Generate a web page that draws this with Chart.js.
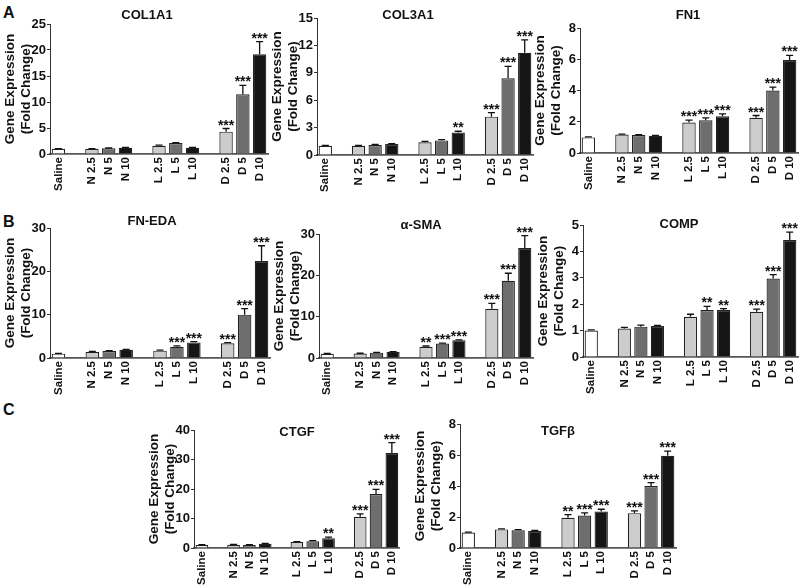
<!DOCTYPE html>
<html>
<head>
<meta charset="utf-8">
<script src="https://cdn.jsdelivr.net/npm/chart.js@4.4.0/dist/chart.umd.min.js"></script>
<style>
body{margin:0;background:#fff;width:800px;height:588px;position:relative;overflow:hidden;font-family:"Liberation Sans",Arial,sans-serif}
canvas{position:absolute}
.letter{position:absolute;font-weight:bold;font-size:16px;color:#111}
</style>
</head>
<body>
<div class="letter" style="left:3px;top:4px">A</div>
<div class="letter" style="left:3px;top:213px">B</div>
<div class="letter" style="left:3px;top:401px">C</div>

<script>
// treatment groups (gaps between groups are added later)
const groups = ["Saline", "N 2.5", "N 5", "N 10", "L 2.5", "L 5", "L 10", "D 2.5", "D 5", "D 10"];

// fold change, SEM, significance per gene
const col1a1 = [1.0, 1.0, 1.1, 1.2, 1.6, 2.1, 1.2, 4.3, 11.5, 19.2];
const col1a1Err = [0.05, 0.05, 0.05, 0.05, 0.1, 0.1, 0.05, 0.6, 1.7, 2.4];
const col1a1Sig = ["", "", "", "", "", "", "", "***", "***", "***"];

const col3a1 = [1.0, 1.0, 1.1, 1.2, 1.4, 1.6, 2.45, 4.2, 8.4, 11.2];
const col3a1Err = [0.05, 0.05, 0.05, 0.05, 0.1, 0.08, 0.15, 0.45, 1.3, 1.4];
const col3a1Sig = ["", "", "", "", "", "", "**", "***", "***", "***"];

const fn1 = [1.0, 1.18, 1.15, 1.1, 1.95, 2.1, 2.35, 2.25, 4.0, 5.95];
const fn1Err = [0.03, 0.03, 0.03, 0.03, 0.15, 0.15, 0.15, 0.15, 0.22, 0.3];
const fn1Sig = ["", "", "", "", "***", "***", "***", "***", "***", "***"];

const fnEda = [1.0, 1.4, 1.6, 1.9, 1.7, 2.6, 3.6, 3.4, 10.0, 22.4];
const fnEdaErr = [0.05, 0.1, 0.1, 0.1, 0.1, 0.2, 0.2, 0.15, 1.4, 3.5];
const fnEdaSig = ["", "", "", "", "", "***", "***", "***", "***", "***"];

const aSma = [1.0, 1.1, 1.3, 1.5, 2.7, 3.5, 4.3, 11.9, 18.7, 26.6];
const aSmaErr = [0.1, 0.05, 0.05, 0.05, 0.2, 0.1, 0.1, 1.3, 1.8, 3.0];
const aSmaSig = ["", "", "", "", "**", "***", "***", "***", "***", "***"];

const comp = [1.0, 1.08, 1.15, 1.17, 1.52, 1.78, 1.78, 1.71, 2.97, 4.43];
const compErr = [0.03, 0.04, 0.06, 0.03, 0.1, 0.14, 0.05, 0.1, 0.15, 0.3];
const compSig = ["", "", "", "", "", "**", "**", "***", "***", "***"];

const ctgf = [1.0, 1.1, 1.0, 1.4, 2.0, 2.3, 3.3, 10.6, 18.3, 32.2];
const ctgfErr = [0.1, 0.1, 0.1, 0.15, 0.15, 0.2, 0.4, 1.0, 1.6, 3.5];
const ctgfSig = ["", "", "", "", "", "", "**", "***", "***", "***"];

const tgfb = [1.0, 1.2, 1.15, 1.1, 1.95, 2.1, 2.35, 2.25, 4.0, 5.95];
const tgfbErr = [0.03, 0.03, 0.03, 0.03, 0.2, 0.17, 0.15, 0.15, 0.22, 0.3];
const tgfbSig = ["", "", "", "", "**", "***", "***", "***", "***", "***"];

const geneNames = ["COL1A1", "COL3A1", "FN1", "FN-EDA", "α-SMA", "COMP", "CTGF", "TGFβ"];
const yMax = [25, 15, 8, 30, 30, 5, 40, 8];
const yStep = [5, 3, 2, 10, 10, 1, 10, 2];

const genes = [
    [col1a1, col1a1Err, col1a1Sig],
    [col3a1, col3a1Err, col3a1Sig],
    [fn1, fn1Err, fn1Sig],
    [fnEda, fnEdaErr, fnEdaSig],
    [aSma, aSmaErr, aSmaSig],
    [comp, compErr, compSig],
    [ctgf, ctgfErr, ctgfSig],
    [tgfb, tgfbErr, tgfbSig]
];

// where each panel sits on the page: y axis x, pixel of max / zero, right end, title centre
const placement = [
    {ax: 50,  top: 24,  bot: 154, right: 268, tx: 147, ty: 15},
    {ax: 317, top: 18,  bot: 155, right: 533, tx: 408, ty: 15},
    {ax: 580, top: 28,  bot: 153, right: 798, tx: 688, ty: 15},
    {ax: 50,  top: 228, bot: 358, right: 270, tx: 152, ty: 221},
    {ax: 319, top: 234, bot: 358, right: 533, tx: 421, ty: 225},
    {ax: 583, top: 225, bot: 357, right: 798, tx: 679, ty: 224},
    {ax: 194, top: 430, bot: 548, right: 400, tx: 297, ty: 432},
    {ax: 460, top: 424, bot: 548, right: 676, tx: 558, ty: 431}
];

const barColors = ["#ffffff", "#cccccc", "#6e6e6e", "#151515"];

// put an empty slot between Saline / N / L / D
function withGaps(arr, fill) {
    return [arr[0], fill, arr[1], arr[2], arr[3], fill, arr[4], arr[5], arr[6], fill, arr[7], arr[8], arr[9]];
}
const slotColors = withGaps([0, 1, 2, 3, 1, 2, 3, 1, 2, 3].map(i => barColors[i]), "#fff");

Chart.defaults.font.family = "'Liberation Sans', Arial, sans-serif";
Chart.defaults.font.weight = "bold";
Chart.defaults.color = "#111";
Chart.defaults.animation = false;

const PAD_TOP = 22, PAD_RIGHT = 9, Y_W = 48, X_H = 40;

const errorBars = {
    id: "errorBars",
    afterDatasetsDraw(chart) {
        const ctx = chart.ctx;
        const ds = chart.data.datasets[0];
        const meta = chart.getDatasetMeta(0);
        const yScale = chart.scales.y;
        ctx.save();
        ctx.strokeStyle = "#111";
        ctx.fillStyle = "#111";
        ctx.lineWidth = 1.3;
        ctx.font = "bold 14px 'Liberation Sans', Arial, sans-serif";
        ctx.textAlign = "center";
        ctx.textBaseline = "alphabetic";
        meta.data.forEach((bar, i) => {
            const v = ds.data[i];
            if (v == null) return;
            const top = yScale.getPixelForValue(v + ds.errors[i]);
            ctx.beginPath();
            ctx.moveTo(bar.x, bar.y);
            ctx.lineTo(bar.x, top);
            ctx.moveTo(bar.x - 3.5, top);
            ctx.lineTo(bar.x + 3.5, top);
            ctx.stroke();
            if (ds.stars[i]) ctx.fillText(ds.stars[i], bar.x, top + 1);
        });
        // gene name
        const t = chart.options.plugins.geneTitle;
        ctx.font = "bold 13px 'Liberation Sans', Arial, sans-serif";
        ctx.textBaseline = "middle";
        ctx.fillText(t.text, t.x, t.y);
        ctx.restore();
    }
};

genes.forEach(function (g, n) {
    const p = placement[n];
    const left = p.ax - Y_W;
    const top = p.top - PAD_TOP;
    const w = p.right - left + PAD_RIGHT;
    const h = p.bot - top + X_H;

    const cv = document.createElement("canvas");
    cv.width = w; cv.height = h;
    cv.style.left = left + "px";
    cv.style.top = top + "px";
    cv.style.width = w + "px";
    cv.style.height = h + "px";
    document.body.appendChild(cv);

    new Chart(cv, {
        type: "bar",
        data: {
            labels: withGaps(groups, ""),
            datasets: [{
                data: withGaps(g[0], null),
                errors: withGaps(g[1], 0),
                stars: withGaps(g[2], ""),
                backgroundColor: slotColors,
                borderColor: "#222",
                borderWidth: 1.2,
                barPercentage: 0.8,
                categoryPercentage: 1
            }]
        },
        options: {
            responsive: false,
            layout: {padding: {top: PAD_TOP, right: PAD_RIGHT, left: 0, bottom: 0}},
            plugins: {
                legend: {display: false},
                tooltip: {enabled: false},
                geneTitle: {text: geneNames[n], x: p.tx - left, y: p.ty - top}
            },
            scales: {
                x: {
                    grid: {display: false, drawTicks: false},
                    border: {display: true, color: "#555", width: 1.8},
                    ticks: {autoSkip: false, maxRotation: 90, minRotation: 90, padding: 3, font: {size: 11.5, weight: "bold"}, color: "#111"},
                    afterFit(scale) { scale.height = X_H; }
                },
                y: {
                    min: 0,
                    max: yMax[n],
                    grid: {drawOnChartArea: false, drawTicks: true, tickLength: 3, color: "#333"},
                    border: {display: true, color: "#333", width: 1},
                    ticks: {stepSize: yStep[n], padding: 1, font: {size: 13, weight: "bold"}, color: "#111"},
                    title: {display: true, text: ["Gene Expression", "(Fold Change)"], font: {size: 13.5, weight: "bold"}, color: "#111", padding: {top: 0, bottom: 1}},
                    afterFit(scale) { scale.width = Y_W; }
                }
            }
        },
        plugins: [errorBars]
    });
});
</script>
</body>
</html>
